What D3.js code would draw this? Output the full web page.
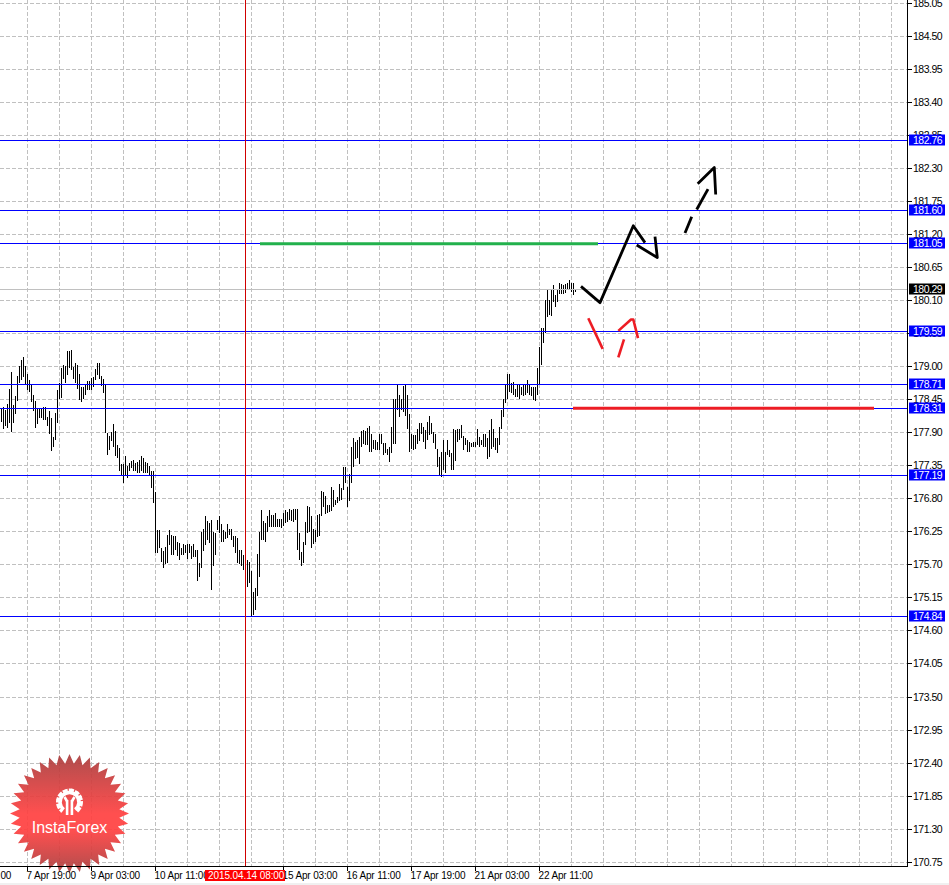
<!DOCTYPE html>
<html><head><meta charset="utf-8">
<script src="https://cdn.jsdelivr.net/npm/d3@7"></script>
<style>html,body{margin:0;padding:0;background:#fff;overflow:hidden}svg{display:block}
text{font-family:"Liberation Sans",Arial,sans-serif}</style></head><body><div id="c"></div>
<script>
const highs=[178.30,178.33,178.28,178.38,178.63,178.92,178.37,178.52,178.85,179.02,179.12,179.17,179.02,178.88,178.78,178.70,178.53,178.43,178.31,178.32,178.31,178.34,178.33,178.16,178.27,178.15,177.83,178.24,178.61,178.73,178.98,179.03,179.01,179.27,179.27,179.28,179.00,179.07,179.03,178.88,178.67,178.67,178.72,178.76,178.76,178.82,178.84,178.96,179.06,179.06,178.85,178.80,178.72,177.90,177.85,177.91,178.05,177.94,177.70,177.65,177.39,177.39,177.52,177.35,177.40,177.44,177.45,177.40,177.41,177.45,177.52,177.48,177.42,177.40,177.35,177.26,177.27,176.92,176.28,176.29,175.98,175.93,176.01,176.20,176.29,176.21,176.18,176.18,176.08,176.07,175.98,176.05,176.04,176.05,176.05,176.02,176.05,175.96,175.96,175.73,176.26,176.31,176.52,176.43,176.41,176.45,176.26,176.24,176.45,176.51,176.39,176.28,176.26,176.39,176.31,176.30,176.19,176.18,176.15,175.95,175.95,175.87,175.79,175.79,175.76,175.61,175.26,175.32,175.89,176.26,176.61,176.43,176.40,176.51,176.61,176.53,176.53,176.56,176.47,176.47,
176.47,176.56,176.61,176.59,176.63,176.62,176.64,176.64,176.64,176.24,175.92,176.09,176.42,176.68,176.66,176.51,176.31,176.29,176.53,176.55,176.94,176.92,176.85,176.70,176.70,177.00,176.95,176.79,176.84,177.05,176.99,177.34,177.34,177.00,177.21,177.67,177.81,177.75,177.78,177.84,177.93,177.95,177.94,177.99,178.01,177.89,177.79,177.78,177.75,177.88,177.88,177.74,177.74,177.64,177.67,178.00,178.47,178.47,178.71,178.53,178.47,178.68,178.72,178.53,178.21,177.88,177.86,177.86,177.97,178.07,178.07,178.00,177.95,178.08,178.19,178.07,177.92,177.89,177.64,177.50,177.59,177.78,177.59,177.78,177.61,177.56,177.97,177.95,177.96,177.97,178.03,177.85,177.81,177.78,177.75,177.74,177.75,177.75,177.97,177.83,177.79,177.89,177.89,177.81,177.95,178.14,177.96,177.81,177.81,178.00,178.28,178.47,178.72,178.88,178.88,178.73,178.75,178.64,178.72,178.70,178.67,178.70,178.72,178.78,178.70,178.67,178.67,178.66,178.99,179.33,179.64,179.64,180.11,180.29,180.11,180.28,180.36,180.19,180.28,180.39,180.38,180.36,180.38,180.39,180.44,180.39,180.40,180.30];
const lows=[178.08,177.97,178.02,177.98,178.06,177.92,178.06,178.22,178.44,178.73,178.78,178.84,178.70,178.61,178.59,178.42,178.27,177.98,178.05,178.15,178.15,178.12,178.12,178.02,177.88,177.60,177.67,177.79,178.07,178.46,178.48,178.80,178.74,178.87,178.98,178.95,178.80,178.73,178.64,178.45,178.42,178.46,178.54,178.61,178.62,178.62,178.67,178.78,178.87,178.80,178.68,178.57,177.90,177.54,177.61,177.76,177.66,177.51,177.48,177.27,177.20,177.07,177.20,177.15,177.27,177.31,177.27,177.26,177.23,177.24,177.26,177.24,177.24,177.24,177.20,176.99,176.73,175.90,175.90,175.98,175.76,175.65,175.72,175.73,176.04,175.87,175.87,175.95,175.85,175.79,175.87,175.87,175.90,175.80,175.90,175.81,175.83,175.84,175.43,175.51,175.65,175.93,176.04,176.12,176.07,175.28,175.69,175.87,176.29,176.24,176.09,176.09,176.13,176.15,176.20,176.12,176.01,175.90,175.74,175.72,175.68,175.62,175.34,175.34,175.40,174.85,174.87,174.95,175.18,175.50,176.12,176.12,176.09,176.26,176.34,176.34,176.34,176.34,176.33,176.34,
176.32,176.36,176.40,176.42,176.45,176.44,176.42,176.45,175.96,175.78,175.68,175.73,176.03,176.23,176.25,175.98,176.06,176.09,176.17,176.18,176.51,176.67,176.55,176.57,176.59,176.60,176.67,176.70,176.73,176.77,176.78,176.95,177.06,176.67,176.77,177.06,177.34,177.47,177.49,177.38,177.67,177.71,177.70,177.70,177.59,177.59,177.64,177.61,177.61,177.61,177.72,177.53,177.57,177.53,177.42,177.57,177.72,177.72,178.28,178.17,178.28,178.25,178.18,177.97,177.59,177.64,177.61,177.64,177.72,177.77,177.89,177.75,177.64,177.78,177.86,177.89,177.74,177.64,177.34,177.20,177.17,177.28,177.24,177.53,177.50,177.28,177.28,177.44,177.75,177.78,177.81,177.61,177.70,177.59,177.59,177.67,177.67,177.67,177.70,177.67,177.70,177.67,177.67,177.47,177.50,177.64,177.67,177.61,177.56,177.70,177.97,178.17,178.40,178.46,178.58,178.56,178.53,178.50,178.50,178.47,178.53,178.51,178.54,178.56,178.54,178.51,178.45,178.43,178.53,178.70,179.04,179.39,179.56,179.83,179.86,179.84,180.08,179.99,180.08,180.21,180.22,180.22,180.23,180.28,180.28,180.25,180.19,180.25];

const priceTicks=["170.75","171.30","171.85","172.40","172.95","173.50","174.05","174.60","175.15","175.70","176.25","176.80","177.35","177.90","178.45","179.00","179.55","180.10","180.65","181.20","181.75","182.30","182.85","183.40","183.95","184.50","185.05"];
const levels=[182.76,181.60,181.05,179.59,178.71,178.31,177.19,174.84];
const lastPrice=180.29;
const gridBars=[-3,13,29,45,61,77,93,109,125,141,157,173,189,205,221,237,253,269,285,301,317,333,349,365,381,397,413,429,445];
const timeBars=[-19,13,45,77,141,173,205,237,269];
const timeLabels=["6 Apr 11:00","7 Apr 19:00","9 Apr 03:00","10 Apr 11:00","15 Apr 03:00","16 Apr 11:00","17 Apr 19:00","21 Apr 03:00","22 Apr 11:00"];
const crossBar=122;
const crossLabel="2015.04.14 08:00";
const blackStrokes=[[[289.75,180.34],[299.25,180.07],[315.9,181.35],[321.75,181.07]],[[317.6,181.03],[327.9,180.82],[326.75,181.17]],[[341.75,181.23],[345.1,181.50]],[[347.6,181.62],[353.25,181.96]],[[348.1,182.05],[356.4,182.32],[357.1,181.87]]];
const redStrokes=[[[293.4,179.81],[300.6,179.30]],[[308.4,179.16],[311.25,179.46]],[[308.4,179.60],[314.75,179.79],[315.9,179.79],[318.25,179.48]]];
const greenSegment=[[129.25,181.05],[298.25,181.05]];
const redSegment=[[285.75,178.31],[436.25,178.31]];

const W=949,H=885,axisX=907,axisY=866;
const svg=d3.select("#c").append("svg").attr("width",W).attr("height",H);
const x=d3.scaleLinear().domain([0,453]).range([1.5,907.5]);
const y=d3.scaleLinear().domain([170.75,185.05]).range([862.5,3.5]);
const cy=v=>Math.floor(y(v)-0.3)+0.5;
const cx=v=>Math.floor(x(v))+0.5;
svg.append("defs").append("clipPath").attr("id","plot").append("rect").attr("width",axisX).attr("height",axisY);
const plot=svg.append("g").attr("clip-path","url(#plot)");

// grid
const grid=plot.append("g").attr("stroke","#c0c0c0").attr("stroke-dasharray","4,2").attr("shape-rendering","crispEdges");
grid.selectAll(".h").data(priceTicks).join("line").attr("x1",0).attr("x2",axisX).attr("y1",d=>cy(+d)).attr("y2",d=>cy(+d));
grid.selectAll(".v").data(gridBars).join("line").attr("x1",cx).attr("x2",cx).attr("y1",0).attr("y2",axisY);

// bars
plot.append("g").attr("stroke","#000").attr("shape-rendering","crispEdges").selectAll("line").data(highs).join("line")
 .attr("x1",(d,i)=>cx(i)).attr("x2",(d,i)=>cx(i)).attr("y1",d=>y(d)).attr("y2",(d,i)=>y(lows[i]));

// price lines
plot.append("line").attr("x1",0).attr("x2",axisX).attr("y1",cy(lastPrice)).attr("y2",cy(lastPrice)).attr("stroke","#c0c0c0").attr("shape-rendering","crispEdges");
plot.append("g").attr("stroke","#0000ff").attr("shape-rendering","crispEdges").selectAll("line").data(levels).join("line")
 .attr("x1",0).attr("x2",axisX).attr("y1",d=>cy(d)).attr("y2",d=>cy(d));
plot.append("line").attr("x1",cx(crossBar)).attr("x2",cx(crossBar)).attr("y1",0).attr("y2",axisY).attr("stroke","#d00000").attr("shape-rendering","crispEdges");

// hand drawn
const ln=d3.line().x(d=>x(d[0])).y(d=>y(d[1]));
const draw=(data,color,w)=>plot.append("g").selectAll("path").data(data).join("path").attr("d",ln).attr("fill","none").attr("stroke",color).attr("stroke-width",w).attr("stroke-linejoin","round");
draw(blackStrokes,"#000",2.8);
draw(redStrokes,"#ed1c24",2.6);
draw([greenSegment],"#22b14c",3);
draw([redSegment],"#ed1c24",3);

// logo
const lg=svg.append("g").attr("transform","translate(69.5,813.5)");
const grad=svg.select("defs").append("linearGradient").attr("id","lg").attr("x1",0).attr("x2",0).attr("y1",0).attr("y2",1);
[[0,"#a83e3e"],[.5,"#ff4040"],[.64,"#ff4040"],[1,"#a83e3e"]].forEach(s=>grad.append("stop").attr("offset",s[0]).attr("stop-color",s[1]));
const teeth=36,pts=[];
for(let i=0;i<teeth*2;i++){const r=i%2?50:59.5,a=i*Math.PI/teeth-Math.PI/2;pts.push([r*Math.cos(a),r*Math.sin(a)]);}
lg.append("polygon").attr("points",pts.map(p=>p.join(",")).join(" ")).attr("fill","url(#lg)").attr("fill-opacity",.92);
const gear=lg.append("g").attr("transform","translate(0,-11.5)").attr("fill","none").attr("stroke","#fff");
gear.append("path").attr("d",d3.arc()({innerRadius:9.5,outerRadius:9.5,startAngle:-2.5,endAngle:2.5})).attr("stroke-width",3.6);
gear.append("path").attr("d",d3.arc()({innerRadius:12,outerRadius:12,startAngle:-2.5,endAngle:2.5})).attr("stroke-width",3).attr("stroke-dasharray","3.2,3");
gear.append("path").attr("d","M-5,-5L-2.6,-1M5,-5L2.6,-1").attr("stroke-width",2.6);
gear.append("path").attr("d","M-2.4,-2V13M2.4,-2V13").attr("stroke-width",2.6);
lg.append("text").attr("y",19.5).attr("text-anchor","middle").attr("fill","#fff").attr("font-size",16).text("InstaForex");

// axes
svg.append("line").attr("x1",axisX+.5).attr("x2",axisX+.5).attr("y1",0).attr("y2",axisY+1).attr("stroke","#000").attr("shape-rendering","crispEdges");
svg.append("line").attr("x1",0).attr("x2",axisX+1).attr("y1",axisY+.5).attr("y2",axisY+.5).attr("stroke","#000").attr("shape-rendering","crispEdges");
svg.append("rect").attr("x",0).attr("y",883).attr("width",W).attr("height",2).attr("fill","#f0f0f0");

// y labels
const ys=svg.append("g").attr("font-size",10.5).attr("letter-spacing","-0.5px");
ys.selectAll("line").data(priceTicks).join("line").attr("x1",axisX+1).attr("x2",axisX+5).attr("y1",d=>cy(+d)).attr("y2",d=>cy(+d)).attr("stroke","#000").attr("shape-rendering","crispEdges");
ys.selectAll("text").data(priceTicks).join("text").attr("x",913).attr("y",d=>cy(+d)).attr("dy","0.36em").attr("fill","#000").text(d=>d);
const badge=(v,bg)=>{const g=svg.append("g").attr("font-size",10.5).attr("letter-spacing","-0.5px");
 g.append("rect").attr("x",909).attr("y",cy(v)-6).attr("width",36).attr("height",11).attr("fill",bg);
 g.append("text").attr("x",913).attr("y",cy(v)).attr("dy","0.36em").attr("fill","#fff").text(v.toFixed(2));};
levels.forEach(v=>badge(v,"#0000ff"));
badge(lastPrice,"#000");

// x labels
const xs=svg.append("g").attr("font-size",10).attr("letter-spacing","-0.15px");
xs.selectAll("line").data(timeBars).join("line").attr("x1",cx).attr("x2",cx).attr("y1",axisY+1).attr("y2",axisY+5).attr("stroke","#000").attr("shape-rendering","crispEdges");
xs.selectAll("text").data(timeLabels).join("text").attr("x",(d,i)=>x(timeBars[i])-1).attr("y",879).attr("fill","#000").text(d=>d);
svg.append("rect").attr("x",205).attr("y",870).attr("width",80).attr("height",11).attr("fill","#ff0000");
svg.append("text").attr("x",208).attr("y",879).attr("fill","#fff").attr("font-size",10).attr("letter-spacing","-0.1px").text(crossLabel);
</script></body></html>
